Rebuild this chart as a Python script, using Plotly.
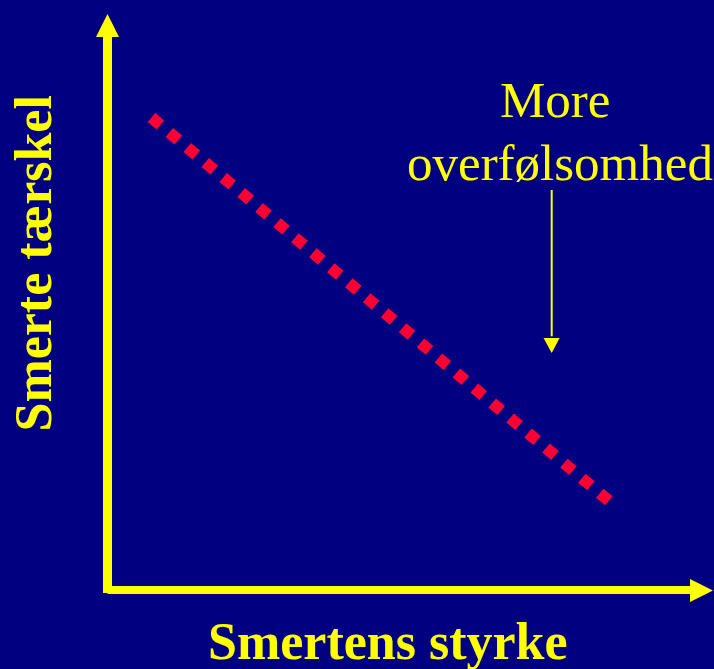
import plotly.graph_objects as go

# Data (abstract units: origin at axes corner, axes reach ~10)
line_x = [0.725, 8.285]
line_y = [8.01, 1.497]

x_title = "Smertens styrke"
y_title = "Smerte tærskel"
note_lines = ["More", "overfølsomhed"]

YELLOW = "#ffff00"
RED = "#ff0033"
BG = "#000080"
SERIF = "Liberation Serif, Times New Roman, serif"

fig = go.Figure()
fig.add_trace(go.Scatter(
    x=line_x, y=line_y, mode="lines",
    line=dict(color=RED, width=11.7, dash="11.7px,11.7px"),
    hoverinfo="skip", showlegend=False,
))

shapes = [
    # y axis shaft
    dict(type="line", x0=0, x1=0, y0=-0.05, y1=9.40, line=dict(color=YELLOW, width=9)),
    # x axis shaft
    dict(type="line", x0=0, x1=9.62, y0=0, y1=0, line=dict(color=YELLOW, width=8)),
    # y axis arrowhead
    dict(type="path", path="M -0.19,9.373 L 0.19,9.373 L 0,9.763 Z",
         fillcolor=YELLOW, line=dict(color=YELLOW, width=0)),
    # x axis arrowhead
    dict(type="path", path="M 9.604,0.186 L 9.604,-0.203 L 9.983,-0.008 Z",
         fillcolor=YELLOW, line=dict(color=YELLOW, width=0)),
    # small pointer arrow
    dict(type="line", x0=7.324, x1=7.324, y0=6.78, y1=4.30, line=dict(color=YELLOW, width=2)),
    dict(type="path", path="M 7.19,4.271 L 7.455,4.271 L 7.324,4.017 Z",
         fillcolor=YELLOW, line=dict(color=YELLOW, width=0)),
]

annotations = [
    dict(text=note_lines[0], x=7.379, y=8.305, xref="x", yref="y",
         xanchor="center", yanchor="middle", showarrow=False,
         font=dict(family=SERIF, size=51, color=YELLOW)),
    dict(text=note_lines[1], x=7.461, y=7.24, xref="x", yref="y",
         xanchor="center", yanchor="middle", showarrow=False,
         font=dict(family=SERIF, size=51, color=YELLOW)),
    dict(text="<b>" + x_title + "</b>", x=0.4776, y=-0.0532, xref="paper", yref="paper",
         xanchor="center", yanchor="middle", showarrow=False,
         font=dict(family=SERIF, size=52, color=YELLOW)),
    dict(text="<b>" + y_title + "</b>", x=-0.0921, y=0.5665, xref="paper", yref="paper",
         xanchor="center", yanchor="middle", showarrow=False, textangle=-90,
         font=dict(family=SERIF, size=52, color=YELLOW)),
]

fig.update_layout(
    width=714, height=669,
    margin=dict(l=90, r=0, t=0, b=60, pad=0),
    paper_bgcolor=BG, plot_bgcolor=BG,
    xaxis=dict(range=[-0.2885, 10], visible=False, fixedrange=True),
    yaxis=dict(range=[-0.322, 10], visible=False, fixedrange=True),
    shapes=shapes, annotations=annotations,
    showlegend=False,
)

fig.write_html(
    "out.html",
    config={"displayModeBar": False},
    post_script="document.body.style.margin='0';document.body.style.overflow='hidden';document.body.style.background='#000080';",
)
